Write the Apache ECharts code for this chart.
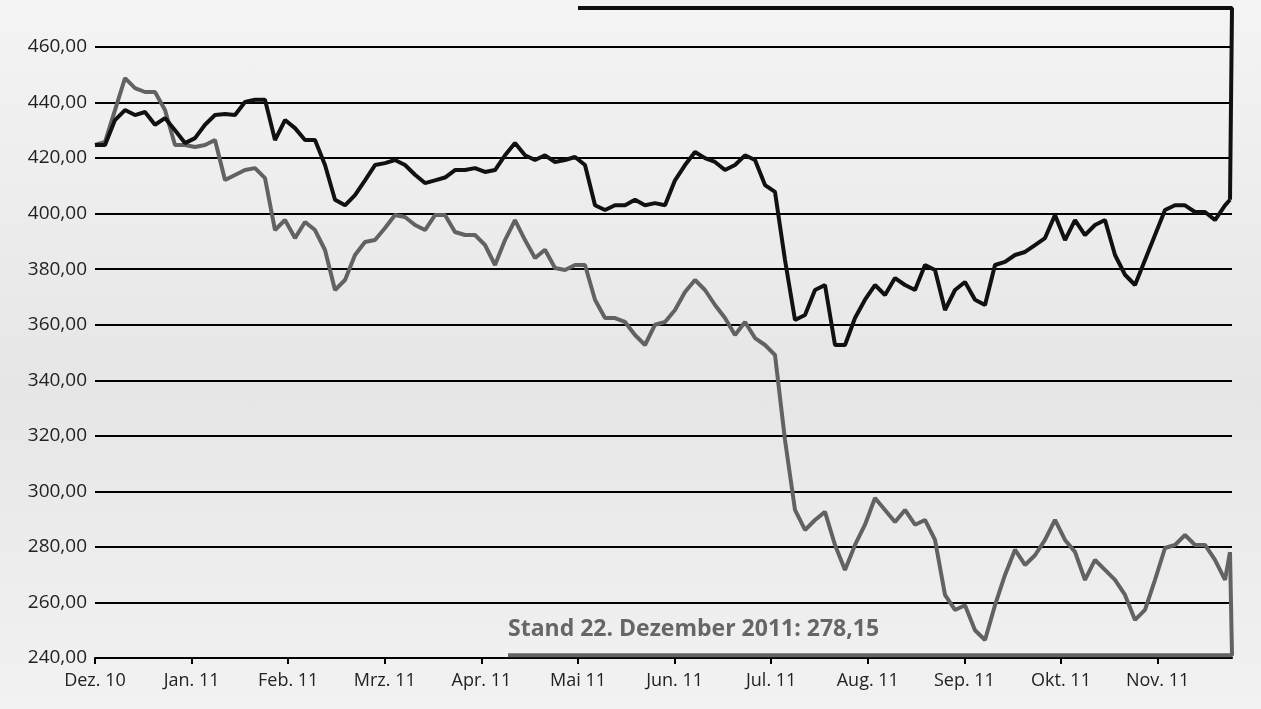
<!DOCTYPE html>
<html lang="de">
<head>
<meta charset="UTF-8">
<title>Kursverlauf</title>
<script src="https://cdn.jsdelivr.net/npm/echarts@6/dist/echarts.min.js"></script>
<style>
  html, body { margin: 0; padding: 0; }
  #chart { width: 1261px; height: 709px; background: linear-gradient(#f4f4f4, #e6e6e6 55%, #f2f2f2); }
</style>
</head>
<body>
<div id="chart"></div>
<script>
// Monatsbeschriftungen
var months = ['Dez. 10', 'Jan. 11', 'Feb. 11', 'Mrz. 11', 'Apr. 11', 'Mai 11', 'Jun. 11',
              'Jul. 11', 'Aug. 11', 'Sep. 11', 'Okt. 11', 'Nov. 11'];
var monthStep = 9.66;   // Messpunkte pro Monat

// schwarze Linie
var blackValues = [424.7, 424.7, 433.7, 437.3, 435.5, 436.6, 432, 434.4, 430, 425.4,
  427.2, 432, 435.5, 435.9, 435.5, 440.2, 441, 441, 426.5, 433.7,
  430.8, 426.5, 426.5, 417.5, 405, 403, 406.7, 412, 417.5, 418.2,
  419.3, 417.5, 414, 411, 412, 413, 415.7, 415.7, 416.4, 415,
  415.7, 421, 425.4, 421, 419.3, 421, 418.6, 419.3, 420.4, 417.5,
  403, 401.3, 403, 403, 405, 403, 403.8, 403, 412, 417.5,
  422.2, 420, 418.6, 415.7, 417.5, 421, 419.3, 410.3, 407.8, 383.3,
  361.7, 363.5, 372.5, 374.3, 352.7, 352.7, 362.4, 369, 374.3, 370.7,
  376.8, 374.3, 372.5, 381.5, 379.7, 365.3, 372.5, 375.4, 369, 367.1,
  381.5, 382.6, 385.1, 386.2, 388.7, 391.2, 399.5, 390.5, 397.7, 392.3,
  395.9, 397.7, 385.1, 378, 374.3, 383.3, 392.3, 401.3, 403, 403,
  400.6, 400.6, 397.7, 403];
var blackLast = 405;

// graue Linie
var grayValues = [424.7, 425.8, 437.3, 448.8, 445.2, 443.8, 443.8, 437.3, 424.7, 424.7,
  424, 424.7, 426.5, 412.1, 413.9, 415.7, 416.4, 412.8, 394.1, 397.7,
  391.2, 397, 394.1, 386.9, 372.5, 376.1, 385.1, 389.8, 390.5, 394.8,
  399.5, 398.8, 395.9, 394.1, 399.5, 399.5, 393.4, 392.3, 392.3, 388.7,
  381.5, 390.5, 397.7, 390.5, 384, 387, 380.4, 379.7, 381.5, 381.5,
  369, 362.4, 362.4, 361, 356.3, 352.7, 360, 361, 365.3, 371.8,
  376.1, 372.5, 367.1, 362.4, 356.3, 361, 355.2, 352.7, 349.1, 318.5,
  293.3, 286.1, 289.7, 292.6, 280.7, 271.7, 280.7, 288, 297.6, 293.3,
  289, 293.3, 288, 289.7, 282.5, 262.7, 257.3, 259, 250, 246.5,
  259, 269.9, 279, 273.5, 277, 282.5, 289.7, 282.5, 278.2, 268.1,
  275.3, 271.7, 268.1, 262.7, 253.7, 257.3, 268.1, 279.6, 280.7, 284.3,
  280.7, 280.7, 275.3, 268.1];
var grayLast = 278.15;

var yTicks = [240, 260, 280, 300, 320, 340, 360, 380, 400, 420, 440, 460];

function pairs(vals, last) {
  var out = vals.map(function (v, i) { return [i, v]; });
  out.push([vals.length - 0.5, last]);
  return out;
}
var endX = blackValues.length - 0.3;

var chart = echarts.init(document.getElementById('chart'));
chart.setOption({
  animation: false,
  grid: { left: 95, right: 29, top: 47, bottom: 51 },
  xAxis: {
    type: 'value', min: 0, max: endX, interval: monthStep,
    axisLine: { show: true, lineStyle: { color: '#000', width: 2 } },
    axisTick: { show: true, length: 6, lineStyle: { color: '#000', width: 2 } },
    splitLine: { show: false },
    axisLabel: {
      color: '#222', fontSize: 18, fontFamily: 'Open Sans', margin: 14,
      showMaxLabel: false,
      formatter: function (v) { return months[Math.round(v / monthStep)] || ''; }
    }
  },
  yAxis: {
    type: 'value', min: yTicks[0], max: yTicks[yTicks.length - 1], interval: 20,
    axisLine: { show: false }, axisTick: { show: false },
    splitLine: { lineStyle: { color: '#000', width: 2 } },
    axisLabel: {
      color: '#222', fontSize: 19, fontFamily: 'Open Sans', margin: 8,
      formatter: function (v) { return v.toFixed(2).replace('.', ','); }
    }
  },
  series: [
    {
      type: 'line', data: pairs(grayValues, grayLast), symbol: 'none',
      lineStyle: { color: '#626262', width: 4 }
    },
    {
      type: 'line', data: [[blackValues.length - 0.5, grayLast], [endX, grayLast], [endX, 241], [41.3, 241]],
      symbol: 'none', clip: false, lineStyle: { color: '#626262', width: 4 }
    },
    {
      type: 'line', data: pairs(blackValues, blackLast), symbol: 'none',
      lineStyle: { color: '#111', width: 4 }
    },
    {
      type: 'line', data: [[blackValues.length - 0.5, blackLast], [endX, blackLast], [endX, 474], [48.3, 474]],
      symbol: 'none', clip: false, lineStyle: { color: '#111', width: 4 }
    }
  ],
  graphic: [{
    type: 'text', left: 508, top: 618,
    style: { text: 'Stand 22. Dezember 2011: 278,15', fill: '#666', fontSize: 23, fontWeight: 'bold', fontFamily: 'Open Sans' }
  }]
});
</script>
</body>
</html>
